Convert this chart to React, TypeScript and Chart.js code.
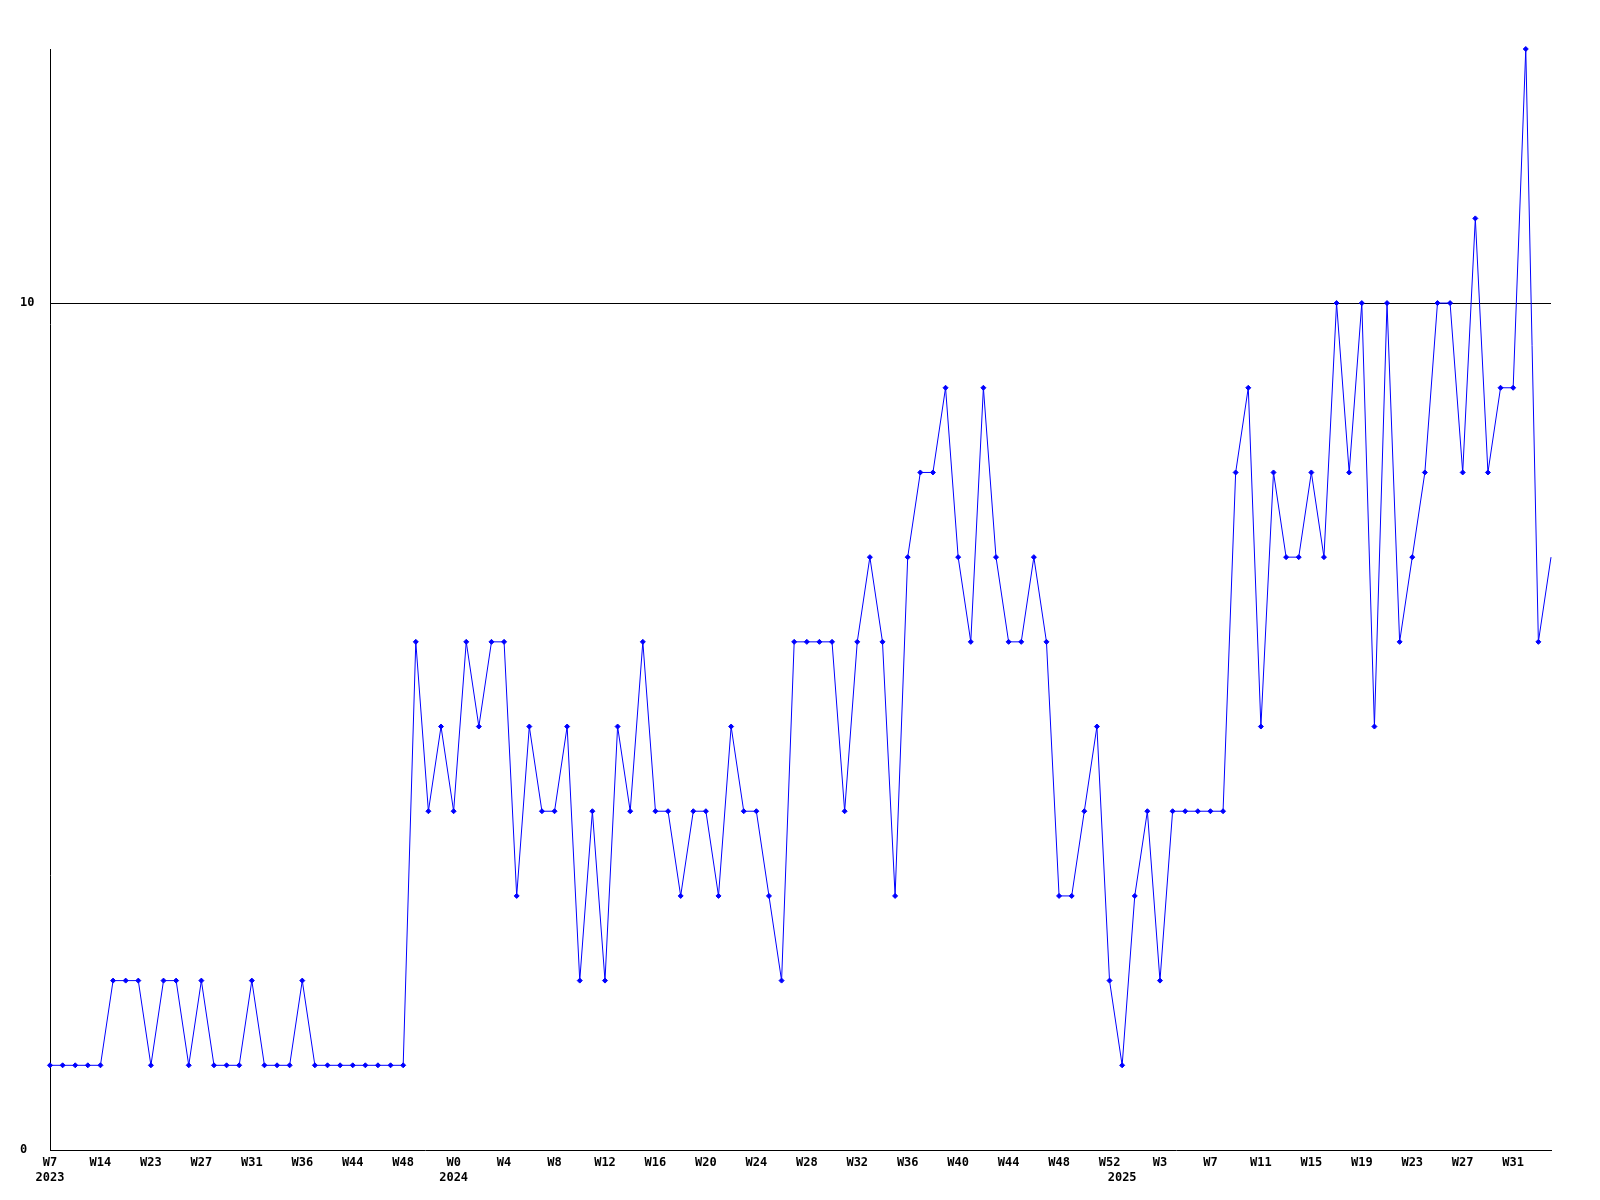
import React, { useEffect, useRef } from "react";
import { Chart, registerables } from "chart.js";

Chart.register(...registerables);

// Weekly values, one per point (120 points)
const values2023: number[] = [1, 1, 1, 1, 1, 2, 2, 2, 1, 2, 2, 1, 2, 1, 1, 1, 2, 1, 1, 1, 2, 1, 1, 1, 1, 1, 1, 1, 1];
const values2024a: number[] = [6, 4, 5, 4, 6, 5, 6, 6, 3, 5, 4, 4, 5, 2, 4, 2, 5, 4, 6, 4, 4, 3, 4, 4, 3, 5, 4, 4, 3, 2, 6];
const values2024b: number[] = [6, 6, 6, 4, 6, 7, 6, 3, 7, 8, 8, 9, 7, 6, 9, 7, 6, 6, 7, 6, 3, 3, 4, 5, 2, 1, 3, 4, 2, 4];
const values2025: number[] = [4, 4, 4, 4, 8, 9, 5, 8, 7, 7, 8, 7, 10, 8, 10, 5, 10, 6, 7, 8, 10, 10, 8, 11, 8, 9, 9, 13, 6, 7];
const seriesValues: number[] = [...values2023, ...values2024a, ...values2024b, ...values2025];

// Week tick labels, shown on every 4th point
const weekTickLabels: string[] = [
  "W7", "W14", "W23", "W27", "W31", "W36", "W44", "W48",
  "W0", "W4", "W8", "W12", "W16", "W20", "W24", "W28", "W32", "W36", "W40", "W44", "W48", "W52",
  "W3", "W7", "W11", "W15", "W19", "W23", "W27", "W31",
];
const weekTickEvery = 4;
// Year labels and the point index where each year begins
const yearLabels: string[] = ["2023", "2024", "2025"];
const yearStartIndex: number[] = [0, 32, 85];
// Y tick values
const yTickValues: number[] = [0, 10];
const yMax = 13;

const categories: string[] = seriesValues.map((_, i) => String(i));

export default function App() {
  const ref = useRef<HTMLCanvasElement | null>(null);

  useEffect(() => {
    if (!ref.current) return;
    const font = { family: "'DejaVu Sans Mono', monospace", size: 12, weight: "bold" as const, lineHeight: 1.25 };
    const lastIndex = seriesValues.length - 1;
    const chart = new Chart(ref.current, {
      type: "line",
      data: {
        labels: categories,
        datasets: [
          {
            data: seriesValues,
            borderColor: "#0000ff",
            backgroundColor: "#0000ff",
            borderWidth: 1,
            tension: 0,
            pointStyle: "rectRot",
            pointRadius: (ctx: any) => (ctx.dataIndex === lastIndex ? 0 : 2.5),
            pointBorderWidth: 1,
            pointBorderColor: "#0000ff",
            pointBackgroundColor: "#0000ff",
            fill: false,
            clip: false as any,
          },
        ],
      },
      options: {
        animation: false,
        responsive: false,
        maintainAspectRatio: false,
        devicePixelRatio: 1,
        layout: { padding: { left: 20, top: 49, right: 49, bottom: 0 } },
        plugins: { legend: { display: false }, tooltip: { enabled: false } },
        scales: {
          x: {
            type: "category",
            offset: false,
            grid: { display: true, color: "rgba(0,0,0,0)", drawTicks: false },
            border: { display: true, color: "#000000", width: 1 },
            ticks: {
              autoSkip: false,
              maxRotation: 0,
              minRotation: 0,
              padding: 5,
              color: "#000000",
              font,
              callback: (_v: any, i: number) => {
                const week = i % weekTickEvery === 0 ? weekTickLabels[i / weekTickEvery] ?? "" : "";
                const yi = yearStartIndex.indexOf(i);
                if (yi >= 0) return [week, yearLabels[yi]];
                return week;
              },
            },
            afterFit: (scale: any) => {
              scale.height = 50;
            },
          },
          y: {
            type: "linear",
            min: 0,
            max: yMax,
            grid: {
              drawTicks: false,
              color: (ctx: any) => (ctx.tick && ctx.tick.value === 10 ? "#000000" : "rgba(0,0,0,0)"),
              lineWidth: 1,
            },
            border: { display: true, color: "#000000", width: 1 },
            ticks: {
              crossAlign: "far",
              padding: 0,
              color: "#000000",
              font,
            },
            afterBuildTicks: (scale: any) => {
              scale.ticks = yTickValues.map((v) => ({ value: v }));
            },
            afterFit: (scale: any) => {
              scale.width = 30;
            },
          },
        },
      },
    });
    return () => chart.destroy();
  }, []);

  return (
    <div style={{ position: "fixed", left: 0, top: 0, width: 1600, height: 1200, background: "#ffffff" }}>
      <canvas ref={ref} width={1600} height={1200} style={{ display: "block", width: 1600, height: 1200 }} />
    </div>
  );
}
